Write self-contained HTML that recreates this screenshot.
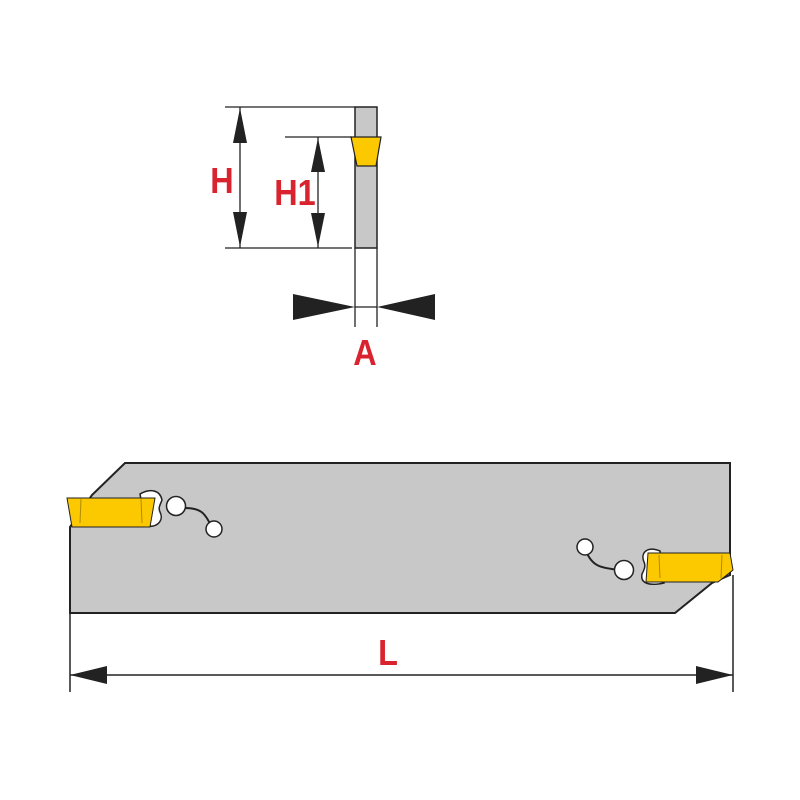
<!DOCTYPE html>
<html><head><meta charset="utf-8"><style>
html,body{margin:0;padding:0;background:#fff;}
svg{display:block}
text{font-family:"Liberation Sans",sans-serif;font-weight:bold;fill:#d9232e}
</style></head><body>
<svg width="800" height="800" viewBox="0 0 800 800" xmlns="http://www.w3.org/2000/svg">
<rect x="355" y="107" width="22" height="141" fill="#c8c8c8" stroke="#222" stroke-width="1.5"/>
<polygon points="351,137 381,137 376,166 357,166" fill="#fcc800" stroke="#222" stroke-width="1.2"/>
<g stroke="#222" stroke-width="1.3">
<line x1="225" y1="107" x2="355" y2="107"/>
<line x1="285" y1="137" x2="352" y2="137"/>
<line x1="225" y1="248" x2="352" y2="248"/>
<line x1="240" y1="107" x2="240" y2="248"/>
<line x1="318" y1="137" x2="318" y2="248"/>
<line x1="355" y1="248" x2="355" y2="327"/>
<line x1="377" y1="248" x2="377" y2="327"/>
<line x1="355" y1="307" x2="377" y2="307"/>
</g>
<g fill="#222">
<polygon points="240,108 233,143 247,143"/>
<polygon points="240,247 233,212 247,212"/>
<polygon points="318,138 311,172 325,172"/>
<polygon points="318,247 311,213 325,213"/>
<polygon points="293,294 293,320 355,307"/>
<polygon points="435,294 435,320 377,307"/>
</g>
<text x="222" y="193" font-size="36" text-anchor="middle" transform="translate(222 0) scale(0.9 1) translate(-222 0)">H</text>
<text x="295" y="205" font-size="36" text-anchor="middle" transform="translate(295 0) scale(0.9 1) translate(-295 0)">H1</text>
<text x="365" y="365" font-size="36" text-anchor="middle" transform="translate(365 0) scale(0.9 1) translate(-365 0)">A</text>
<polygon points="125,463 730,463 730,575 712,583 675,613 70,613 70,527 92,495" fill="#c8c8c8" stroke="#222" stroke-width="2"/>
<path d="M140,494 C150,488 160,490 162,500 C160,505 158,508 160,512 C164,520 158,528 146,526 Z" fill="#fff" stroke="#222" stroke-width="1.5"/>
<path d="M185,508 C200,508 205,512 212,528" fill="none" stroke="#222" stroke-width="2"/>
<circle cx="176" cy="506" r="9.5" fill="#fff" stroke="#222" stroke-width="1.5"/>
<circle cx="214" cy="529" r="8" fill="#fff" stroke="#222" stroke-width="1.5"/>
<polygon points="67,498 155,498 150,527 72,527" fill="#fcc800" stroke="#222" stroke-width="1"/>
<line x1="81" y1="499" x2="80" y2="523" stroke="#b08a00"/>
<line x1="141" y1="499" x2="142" y2="523" stroke="#b08a00"/>
<path d="M660,551 C648,546 640,552 644,562 C646,566 644,570 642,574 C640,584 650,586 664,583 Z" fill="#fff" stroke="#222" stroke-width="1.5"/>
<path d="M586,551 C592,566 600,568 620,570" fill="none" stroke="#222" stroke-width="2"/>
<circle cx="585" cy="547" r="8" fill="#fff" stroke="#222" stroke-width="1.5"/>
<circle cx="624" cy="570" r="9.5" fill="#fff" stroke="#222" stroke-width="1.5"/>
<polygon points="648,553 730,553 733,570 718,582 646,582" fill="#fcc800" stroke="#222" stroke-width="1"/>
<line x1="659" y1="555" x2="660" y2="578" stroke="#b08a00"/>
<line x1="722" y1="555" x2="721" y2="578" stroke="#b08a00"/>
<g stroke="#222" stroke-width="1.5">
<line x1="70" y1="613" x2="70" y2="692"/>
<line x1="733" y1="575" x2="733" y2="692"/>
<line x1="70" y1="675" x2="733" y2="675"/>
</g>
<g fill="#222">
<polygon points="70,675 107,666 107,684"/>
<polygon points="733,675 696,666 696,684"/>
</g>
<text x="388" y="665" font-size="36" text-anchor="middle" transform="translate(388 0) scale(0.9 1) translate(-388 0)">L</text>
</svg>
</body></html>
